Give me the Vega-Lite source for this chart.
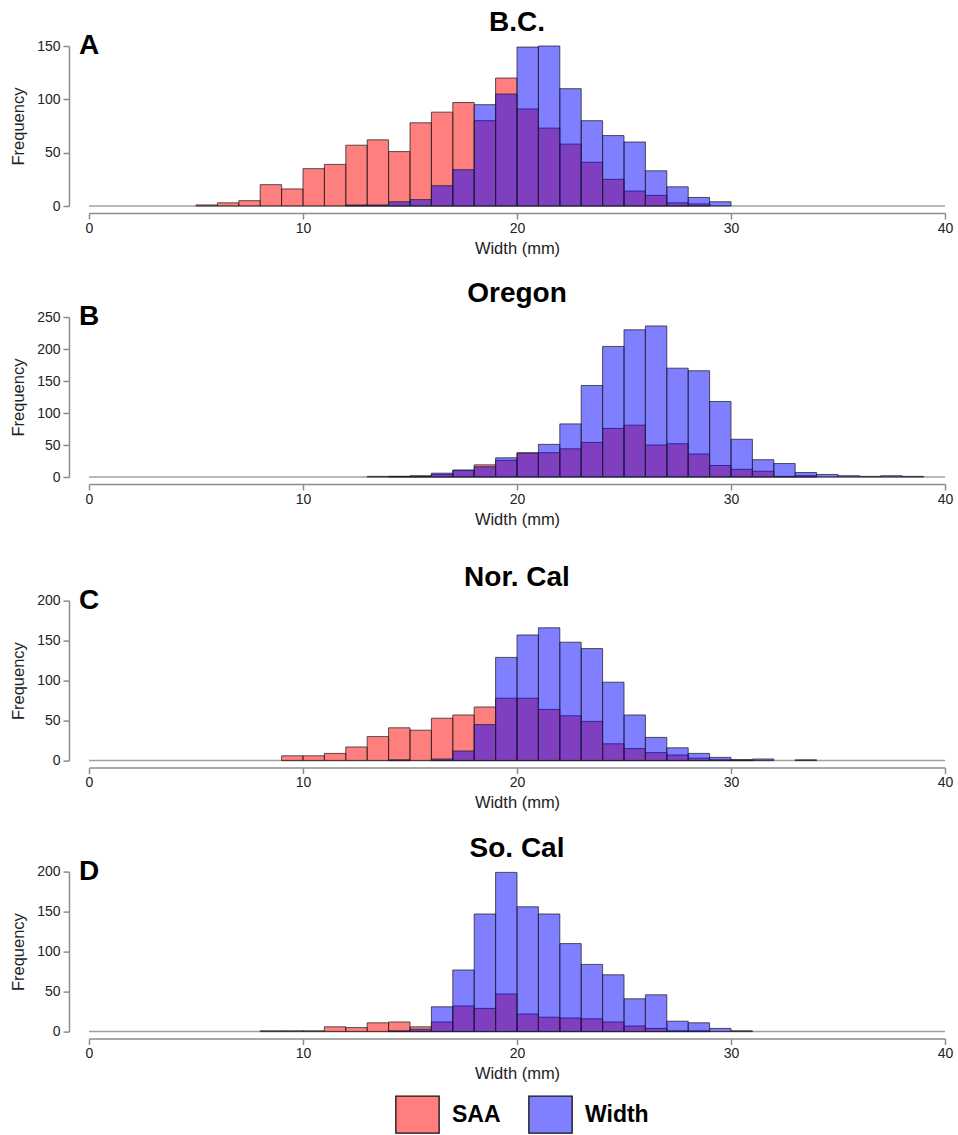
{
"$schema": "https://vega.github.io/schema/vega-lite/v6.json",
"background": "white",
"padding": {"left": 10, "top": 9, "right": 10, "bottom": 0},
"datasets": {"hist": [
{"r":"A","s":"SAA","lo":5,"hi":6,"n":1},{"r":"A","s":"SAA","lo":6,"hi":7,"n":3},{"r":"A","s":"SAA","lo":7,"hi":8,"n":5},{"r":"A","s":"SAA","lo":8,"hi":9,"n":20},{"r":"A","s":"SAA","lo":9,"hi":10,"n":16},{"r":"A","s":"SAA","lo":10,"hi":11,"n":35},{"r":"A","s":"SAA","lo":11,"hi":12,"n":39},{"r":"A","s":"SAA","lo":12,"hi":13,"n":57},{"r":"A","s":"SAA","lo":13,"hi":14,"n":62},{"r":"A","s":"SAA","lo":14,"hi":15,"n":51},{"r":"A","s":"SAA","lo":15,"hi":16,"n":78},{"r":"A","s":"SAA","lo":16,"hi":17,"n":88},{"r":"A","s":"SAA","lo":17,"hi":18,"n":97},{"r":"A","s":"SAA","lo":18,"hi":19,"n":80},{"r":"A","s":"SAA","lo":19,"hi":20,"n":120},{"r":"A","s":"SAA","lo":20,"hi":21,"n":91},{"r":"A","s":"SAA","lo":21,"hi":22,"n":73},{"r":"A","s":"SAA","lo":22,"hi":23,"n":58},{"r":"A","s":"SAA","lo":23,"hi":24,"n":41},{"r":"A","s":"SAA","lo":24,"hi":25,"n":25},{"r":"A","s":"SAA","lo":25,"hi":26,"n":14},{"r":"A","s":"SAA","lo":26,"hi":27,"n":10},{"r":"A","s":"SAA","lo":27,"hi":28,"n":3},{"r":"A","s":"SAA","lo":28,"hi":29,"n":2},
{"r":"A","s":"Width","lo":12,"hi":13,"n":1},{"r":"A","s":"Width","lo":13,"hi":14,"n":1},{"r":"A","s":"Width","lo":14,"hi":15,"n":4},{"r":"A","s":"Width","lo":15,"hi":16,"n":6},{"r":"A","s":"Width","lo":16,"hi":17,"n":19},{"r":"A","s":"Width","lo":17,"hi":18,"n":34},{"r":"A","s":"Width","lo":18,"hi":19,"n":95},{"r":"A","s":"Width","lo":19,"hi":20,"n":105},{"r":"A","s":"Width","lo":20,"hi":21,"n":149},{"r":"A","s":"Width","lo":21,"hi":22,"n":150},{"r":"A","s":"Width","lo":22,"hi":23,"n":110},{"r":"A","s":"Width","lo":23,"hi":24,"n":80},{"r":"A","s":"Width","lo":24,"hi":25,"n":66},{"r":"A","s":"Width","lo":25,"hi":26,"n":60},{"r":"A","s":"Width","lo":26,"hi":27,"n":33},{"r":"A","s":"Width","lo":27,"hi":28,"n":18},{"r":"A","s":"Width","lo":28,"hi":29,"n":8},{"r":"A","s":"Width","lo":29,"hi":30,"n":4},
{"r":"B","s":"SAA","lo":13,"hi":14,"n":1},{"r":"B","s":"SAA","lo":14,"hi":15,"n":1},{"r":"B","s":"SAA","lo":15,"hi":16,"n":2},{"r":"B","s":"SAA","lo":16,"hi":17,"n":4},{"r":"B","s":"SAA","lo":17,"hi":18,"n":10},{"r":"B","s":"SAA","lo":18,"hi":19,"n":19},{"r":"B","s":"SAA","lo":19,"hi":20,"n":26},{"r":"B","s":"SAA","lo":20,"hi":21,"n":38},{"r":"B","s":"SAA","lo":21,"hi":22,"n":38},{"r":"B","s":"SAA","lo":22,"hi":23,"n":44},{"r":"B","s":"SAA","lo":23,"hi":24,"n":54},{"r":"B","s":"SAA","lo":24,"hi":25,"n":76},{"r":"B","s":"SAA","lo":25,"hi":26,"n":81},{"r":"B","s":"SAA","lo":26,"hi":27,"n":50},{"r":"B","s":"SAA","lo":27,"hi":28,"n":52},{"r":"B","s":"SAA","lo":28,"hi":29,"n":36},{"r":"B","s":"SAA","lo":29,"hi":30,"n":18},{"r":"B","s":"SAA","lo":30,"hi":31,"n":12},{"r":"B","s":"SAA","lo":31,"hi":32,"n":9},{"r":"B","s":"SAA","lo":32,"hi":33,"n":1},{"r":"B","s":"SAA","lo":33,"hi":34,"n":2},
{"r":"B","s":"Width","lo":14,"hi":15,"n":1},{"r":"B","s":"Width","lo":15,"hi":16,"n":1},{"r":"B","s":"Width","lo":16,"hi":17,"n":6},{"r":"B","s":"Width","lo":17,"hi":18,"n":11},{"r":"B","s":"Width","lo":18,"hi":19,"n":16},{"r":"B","s":"Width","lo":19,"hi":20,"n":30},{"r":"B","s":"Width","lo":20,"hi":21,"n":37},{"r":"B","s":"Width","lo":21,"hi":22,"n":51},{"r":"B","s":"Width","lo":22,"hi":23,"n":83},{"r":"B","s":"Width","lo":23,"hi":24,"n":143},{"r":"B","s":"Width","lo":24,"hi":25,"n":204},{"r":"B","s":"Width","lo":25,"hi":26,"n":230},{"r":"B","s":"Width","lo":26,"hi":27,"n":236},{"r":"B","s":"Width","lo":27,"hi":28,"n":170},{"r":"B","s":"Width","lo":28,"hi":29,"n":166},{"r":"B","s":"Width","lo":29,"hi":30,"n":118},{"r":"B","s":"Width","lo":30,"hi":31,"n":59},{"r":"B","s":"Width","lo":31,"hi":32,"n":27},{"r":"B","s":"Width","lo":32,"hi":33,"n":21},{"r":"B","s":"Width","lo":33,"hi":34,"n":7},{"r":"B","s":"Width","lo":34,"hi":35,"n":4},{"r":"B","s":"Width","lo":35,"hi":36,"n":2},{"r":"B","s":"Width","lo":36,"hi":37,"n":1},{"r":"B","s":"Width","lo":37,"hi":38,"n":2},{"r":"B","s":"Width","lo":38,"hi":39,"n":1},
{"r":"C","s":"SAA","lo":9,"hi":10,"n":6},{"r":"C","s":"SAA","lo":10,"hi":11,"n":6},{"r":"C","s":"SAA","lo":11,"hi":12,"n":9},{"r":"C","s":"SAA","lo":12,"hi":13,"n":17},{"r":"C","s":"SAA","lo":13,"hi":14,"n":30},{"r":"C","s":"SAA","lo":14,"hi":15,"n":41},{"r":"C","s":"SAA","lo":15,"hi":16,"n":38},{"r":"C","s":"SAA","lo":16,"hi":17,"n":53},{"r":"C","s":"SAA","lo":17,"hi":18,"n":57},{"r":"C","s":"SAA","lo":18,"hi":19,"n":67},{"r":"C","s":"SAA","lo":19,"hi":20,"n":78},{"r":"C","s":"SAA","lo":20,"hi":21,"n":78},{"r":"C","s":"SAA","lo":21,"hi":22,"n":64},{"r":"C","s":"SAA","lo":22,"hi":23,"n":56},{"r":"C","s":"SAA","lo":23,"hi":24,"n":49},{"r":"C","s":"SAA","lo":24,"hi":25,"n":21},{"r":"C","s":"SAA","lo":25,"hi":26,"n":15},{"r":"C","s":"SAA","lo":26,"hi":27,"n":10},{"r":"C","s":"SAA","lo":27,"hi":28,"n":7},{"r":"C","s":"SAA","lo":28,"hi":29,"n":3},{"r":"C","s":"SAA","lo":29,"hi":30,"n":1},{"r":"C","s":"SAA","lo":30,"hi":31,"n":1},
{"r":"C","s":"Width","lo":14,"hi":15,"n":1},{"r":"C","s":"Width","lo":16,"hi":17,"n":2},{"r":"C","s":"Width","lo":17,"hi":18,"n":12},{"r":"C","s":"Width","lo":18,"hi":19,"n":45},{"r":"C","s":"Width","lo":19,"hi":20,"n":129},{"r":"C","s":"Width","lo":20,"hi":21,"n":157},{"r":"C","s":"Width","lo":21,"hi":22,"n":166},{"r":"C","s":"Width","lo":22,"hi":23,"n":148},{"r":"C","s":"Width","lo":23,"hi":24,"n":140},{"r":"C","s":"Width","lo":24,"hi":25,"n":98},{"r":"C","s":"Width","lo":25,"hi":26,"n":57},{"r":"C","s":"Width","lo":26,"hi":27,"n":29},{"r":"C","s":"Width","lo":27,"hi":28,"n":16},{"r":"C","s":"Width","lo":28,"hi":29,"n":9},{"r":"C","s":"Width","lo":29,"hi":30,"n":4},{"r":"C","s":"Width","lo":30,"hi":31,"n":1},{"r":"C","s":"Width","lo":31,"hi":32,"n":2},{"r":"C","s":"Width","lo":33,"hi":34,"n":1},
{"r":"D","s":"SAA","lo":8,"hi":9,"n":1},{"r":"D","s":"SAA","lo":9,"hi":10,"n":1},{"r":"D","s":"SAA","lo":10,"hi":11,"n":1},{"r":"D","s":"SAA","lo":11,"hi":12,"n":6},{"r":"D","s":"SAA","lo":12,"hi":13,"n":5},{"r":"D","s":"SAA","lo":13,"hi":14,"n":11},{"r":"D","s":"SAA","lo":14,"hi":15,"n":12},{"r":"D","s":"SAA","lo":15,"hi":16,"n":6},{"r":"D","s":"SAA","lo":16,"hi":17,"n":12},{"r":"D","s":"SAA","lo":17,"hi":18,"n":32},{"r":"D","s":"SAA","lo":18,"hi":19,"n":29},{"r":"D","s":"SAA","lo":19,"hi":20,"n":47},{"r":"D","s":"SAA","lo":20,"hi":21,"n":22},{"r":"D","s":"SAA","lo":21,"hi":22,"n":18},{"r":"D","s":"SAA","lo":22,"hi":23,"n":17},{"r":"D","s":"SAA","lo":23,"hi":24,"n":16},{"r":"D","s":"SAA","lo":24,"hi":25,"n":12},{"r":"D","s":"SAA","lo":25,"hi":26,"n":7},{"r":"D","s":"SAA","lo":26,"hi":27,"n":4},{"r":"D","s":"SAA","lo":27,"hi":28,"n":1},{"r":"D","s":"SAA","lo":28,"hi":29,"n":1},
{"r":"D","s":"Width","lo":14,"hi":15,"n":1},{"r":"D","s":"Width","lo":15,"hi":16,"n":3},{"r":"D","s":"Width","lo":16,"hi":17,"n":31},{"r":"D","s":"Width","lo":17,"hi":18,"n":77},{"r":"D","s":"Width","lo":18,"hi":19,"n":147},{"r":"D","s":"Width","lo":19,"hi":20,"n":199},{"r":"D","s":"Width","lo":20,"hi":21,"n":156},{"r":"D","s":"Width","lo":21,"hi":22,"n":147},{"r":"D","s":"Width","lo":22,"hi":23,"n":110},{"r":"D","s":"Width","lo":23,"hi":24,"n":84},{"r":"D","s":"Width","lo":24,"hi":25,"n":71},{"r":"D","s":"Width","lo":25,"hi":26,"n":41},{"r":"D","s":"Width","lo":26,"hi":27,"n":46},{"r":"D","s":"Width","lo":27,"hi":28,"n":13},{"r":"D","s":"Width","lo":28,"hi":29,"n":11},{"r":"D","s":"Width","lo":29,"hi":30,"n":4},{"r":"D","s":"Width","lo":30,"hi":31,"n":1}
]},
"vconcat": [
{"spacing": 23, "vconcat": [
{"title": {"text": "B.C."}, "width": 856, "height": 160, "layer": [
 {"data": {"values": [{}]}, "mark": {"type": "rule", "color": "#a0a0a0", "strokeWidth": 1.5}, "encoding": {"x": {"datum": 0, "type": "quantitative", "title": "Width (mm)", "axis": {"values": [0, 10, 20, 30, 40]}}, "x2": {"datum": 40}, "y": {"datum": 0, "type": "quantitative", "title": "Frequency", "axis": {"values": [0, 50, 100, 150]}}}},
 {"data": {"name": "hist"}, "transform": [{"filter": "datum.r === 'A' && datum.s === 'SAA'"}], "mark": {"type": "bar", "fillOpacity": 0.5, "stroke": "#222", "strokeOpacity": 0.75, "strokeWidth": 1}, "encoding": {"x": {"field": "lo", "type": "quantitative", "title": "Width (mm)", "scale": {"domain": [0, 40], "nice": false, "zero": false}, "axis": {"values": [0, 10, 20, 30, 40]}}, "x2": {"field": "hi"}, "y": {"field": "n", "type": "quantitative", "title": "Frequency", "scale": {"domain": [0, 150], "nice": false}, "axis": {"values": [0, 50, 100, 150]}}, "y2": {"datum": 0}, "color": {"field": "s", "type": "nominal", "scale": {"domain": ["SAA", "Width"], "range": ["#ff0000", "#0000ff"]}}}},
 {"data": {"name": "hist"}, "transform": [{"filter": "datum.r === 'A' && datum.s === 'Width'"}], "mark": {"type": "bar", "fillOpacity": 0.5, "stroke": "#222", "strokeOpacity": 0.75, "strokeWidth": 1}, "encoding": {"x": {"field": "lo", "type": "quantitative", "title": "Width (mm)", "axis": {"values": [0, 10, 20, 30, 40]}}, "x2": {"field": "hi"}, "y": {"field": "n", "type": "quantitative", "title": "Frequency", "axis": {"values": [0, 50, 100, 150]}}, "y2": {"datum": 0}, "color": {"field": "s", "type": "nominal", "scale": {"domain": ["SAA", "Width"], "range": ["#ff0000", "#0000ff"]}}}},
 {"data": {"values": [{}]}, "mark": {"type": "text", "text": "A", "fontSize": 28, "fontWeight": "bold", "align": "center", "baseline": "middle", "color": "#000"}, "encoding": {"x": {"datum": 0, "type": "quantitative", "title": "Width (mm)", "axis": {"values": [0, 10, 20, 30, 40]}}, "y": {"datum": 150, "type": "quantitative", "title": "Frequency", "axis": {"values": [0, 50, 100, 150]}}}}
]},
{"title": {"text": "Oregon"}, "width": 856, "height": 160, "layer": [
 {"data": {"values": [{}]}, "mark": {"type": "rule", "color": "#a0a0a0", "strokeWidth": 1.5}, "encoding": {"x": {"datum": 0, "type": "quantitative", "title": "Width (mm)", "axis": {"values": [0, 10, 20, 30, 40]}}, "x2": {"datum": 40}, "y": {"datum": 0, "type": "quantitative", "title": "Frequency", "axis": {"values": [0, 50, 100, 150, 200, 250]}}}},
 {"data": {"name": "hist"}, "transform": [{"filter": "datum.r === 'B' && datum.s === 'SAA'"}], "mark": {"type": "bar", "fillOpacity": 0.5, "stroke": "#222", "strokeOpacity": 0.75, "strokeWidth": 1}, "encoding": {"x": {"field": "lo", "type": "quantitative", "title": "Width (mm)", "scale": {"domain": [0, 40], "nice": false, "zero": false}, "axis": {"values": [0, 10, 20, 30, 40]}}, "x2": {"field": "hi"}, "y": {"field": "n", "type": "quantitative", "title": "Frequency", "scale": {"domain": [0, 250], "nice": false}, "axis": {"values": [0, 50, 100, 150, 200, 250]}}, "y2": {"datum": 0}, "color": {"field": "s", "type": "nominal", "scale": {"domain": ["SAA", "Width"], "range": ["#ff0000", "#0000ff"]}}}},
 {"data": {"name": "hist"}, "transform": [{"filter": "datum.r === 'B' && datum.s === 'Width'"}], "mark": {"type": "bar", "fillOpacity": 0.5, "stroke": "#222", "strokeOpacity": 0.75, "strokeWidth": 1}, "encoding": {"x": {"field": "lo", "type": "quantitative", "title": "Width (mm)", "axis": {"values": [0, 10, 20, 30, 40]}}, "x2": {"field": "hi"}, "y": {"field": "n", "type": "quantitative", "title": "Frequency", "axis": {"values": [0, 50, 100, 150, 200, 250]}}, "y2": {"datum": 0}, "color": {"field": "s", "type": "nominal", "scale": {"domain": ["SAA", "Width"], "range": ["#ff0000", "#0000ff"]}}}},
 {"data": {"values": [{}]}, "mark": {"type": "text", "text": "B", "fontSize": 28, "fontWeight": "bold", "align": "center", "baseline": "middle", "color": "#000"}, "encoding": {"x": {"datum": 0, "type": "quantitative", "title": "Width (mm)", "axis": {"values": [0, 10, 20, 30, 40]}}, "y": {"datum": 250, "type": "quantitative", "title": "Frequency", "axis": {"values": [0, 50, 100, 150, 200, 250]}}}}
]}
]},
{"spacing": 23, "vconcat": [
{"title": {"text": "Nor. Cal"}, "width": 856, "height": 160, "layer": [
 {"data": {"values": [{}]}, "mark": {"type": "rule", "color": "#a0a0a0", "strokeWidth": 1.5}, "encoding": {"x": {"datum": 0, "type": "quantitative", "title": "Width (mm)", "axis": {"values": [0, 10, 20, 30, 40]}}, "x2": {"datum": 40}, "y": {"datum": 0, "type": "quantitative", "title": "Frequency", "axis": {"values": [0, 50, 100, 150, 200]}}}},
 {"data": {"name": "hist"}, "transform": [{"filter": "datum.r === 'C' && datum.s === 'SAA'"}], "mark": {"type": "bar", "fillOpacity": 0.5, "stroke": "#222", "strokeOpacity": 0.75, "strokeWidth": 1}, "encoding": {"x": {"field": "lo", "type": "quantitative", "title": "Width (mm)", "scale": {"domain": [0, 40], "nice": false, "zero": false}, "axis": {"values": [0, 10, 20, 30, 40]}}, "x2": {"field": "hi"}, "y": {"field": "n", "type": "quantitative", "title": "Frequency", "scale": {"domain": [0, 200], "nice": false}, "axis": {"values": [0, 50, 100, 150, 200]}}, "y2": {"datum": 0}, "color": {"field": "s", "type": "nominal", "scale": {"domain": ["SAA", "Width"], "range": ["#ff0000", "#0000ff"]}}}},
 {"data": {"name": "hist"}, "transform": [{"filter": "datum.r === 'C' && datum.s === 'Width'"}], "mark": {"type": "bar", "fillOpacity": 0.5, "stroke": "#222", "strokeOpacity": 0.75, "strokeWidth": 1}, "encoding": {"x": {"field": "lo", "type": "quantitative", "title": "Width (mm)", "axis": {"values": [0, 10, 20, 30, 40]}}, "x2": {"field": "hi"}, "y": {"field": "n", "type": "quantitative", "title": "Frequency", "axis": {"values": [0, 50, 100, 150, 200]}}, "y2": {"datum": 0}, "color": {"field": "s", "type": "nominal", "scale": {"domain": ["SAA", "Width"], "range": ["#ff0000", "#0000ff"]}}}},
 {"data": {"values": [{}]}, "mark": {"type": "text", "text": "C", "fontSize": 28, "fontWeight": "bold", "align": "center", "baseline": "middle", "color": "#000"}, "encoding": {"x": {"datum": 0, "type": "quantitative", "title": "Width (mm)", "axis": {"values": [0, 10, 20, 30, 40]}}, "y": {"datum": 200, "type": "quantitative", "title": "Frequency", "axis": {"values": [0, 50, 100, 150, 200]}}}}
]},
{"title": {"text": "So. Cal"}, "width": 856, "height": 160, "layer": [
 {"data": {"values": [{}]}, "mark": {"type": "rule", "color": "#a0a0a0", "strokeWidth": 1.5}, "encoding": {"x": {"datum": 0, "type": "quantitative", "title": "Width (mm)", "axis": {"values": [0, 10, 20, 30, 40]}}, "x2": {"datum": 40}, "y": {"datum": 0, "type": "quantitative", "title": "Frequency", "axis": {"values": [0, 50, 100, 150, 200]}}}},
 {"data": {"name": "hist"}, "transform": [{"filter": "datum.r === 'D' && datum.s === 'SAA'"}], "mark": {"type": "bar", "fillOpacity": 0.5, "stroke": "#222", "strokeOpacity": 0.75, "strokeWidth": 1}, "encoding": {"x": {"field": "lo", "type": "quantitative", "title": "Width (mm)", "scale": {"domain": [0, 40], "nice": false, "zero": false}, "axis": {"values": [0, 10, 20, 30, 40]}}, "x2": {"field": "hi"}, "y": {"field": "n", "type": "quantitative", "title": "Frequency", "scale": {"domain": [0, 200], "nice": false}, "axis": {"values": [0, 50, 100, 150, 200]}}, "y2": {"datum": 0}, "color": {"field": "s", "type": "nominal", "scale": {"domain": ["SAA", "Width"], "range": ["#ff0000", "#0000ff"]}, "legend": {"orient": "none", "legendX": 309, "legendY": 1049, "direction": "horizontal", "title": null, "symbolType": "M-1.17,-1H1.17V1H-1.17Z", "symbolSize": 1369, "symbolStrokeColor": "#111", "symbolStrokeWidth": 1.3, "labelFontSize": 23, "labelFontWeight": "bold", "labelFont": "Liberation Sans", "labelColor": "#000", "labelOffset": 15, "columnPadding": 25, "encode": {"symbols": {"update": {"fillOpacity": {"value": 0.5}, "strokeOpacity": {"value": 1}, "opacity": {"value": 1}}}}}}}},
 {"data": {"name": "hist"}, "transform": [{"filter": "datum.r === 'D' && datum.s === 'Width'"}], "mark": {"type": "bar", "fillOpacity": 0.5, "stroke": "#222", "strokeOpacity": 0.75, "strokeWidth": 1}, "encoding": {"x": {"field": "lo", "type": "quantitative", "title": "Width (mm)", "axis": {"values": [0, 10, 20, 30, 40]}}, "x2": {"field": "hi"}, "y": {"field": "n", "type": "quantitative", "title": "Frequency", "axis": {"values": [0, 50, 100, 150, 200]}}, "y2": {"datum": 0}, "color": {"field": "s", "type": "nominal", "scale": {"domain": ["SAA", "Width"], "range": ["#ff0000", "#0000ff"]}}}},
 {"data": {"values": [{}]}, "mark": {"type": "text", "text": "D", "fontSize": 28, "fontWeight": "bold", "align": "center", "baseline": "middle", "color": "#000"}, "encoding": {"x": {"datum": 0, "type": "quantitative", "title": "Width (mm)", "axis": {"values": [0, 10, 20, 30, 40]}}, "y": {"datum": 200, "type": "quantitative", "title": "Frequency", "axis": {"values": [0, 50, 100, 150, 200]}}}}
]}
]}
],
"spacing": 35.6,
"resolve": {"scale": {"y": "independent"}},
"config": {
 "font": "Liberation Sans",
 "view": {"stroke": null},
 "axis": {"grid": false, "domainColor": "#8c8c8c", "tickColor": "#8c8c8c", "labelColor": "#222", "titleColor": "#222", "labelFontSize": 14, "titleFontSize": 16.5, "titleFontWeight": "normal", "labelFont": "Liberation Sans", "titleFont": "Liberation Sans", "tickSize": 6, "domainWidth": 1.5, "tickWidth": 1.5, "labelOverlap": false},
 "axisX": {"offset": 7, "labelPadding": 2, "titlePadding": 5, "labelFlush": false},
 "axisY": {"offset": 20, "labelPadding": 3, "titlePadding": 10},
 "title": {"fontSize": 28, "fontWeight": "bold", "font": "Liberation Sans", "color": "#000", "frame": "group", "anchor": "middle", "offset": -5}
}
}
